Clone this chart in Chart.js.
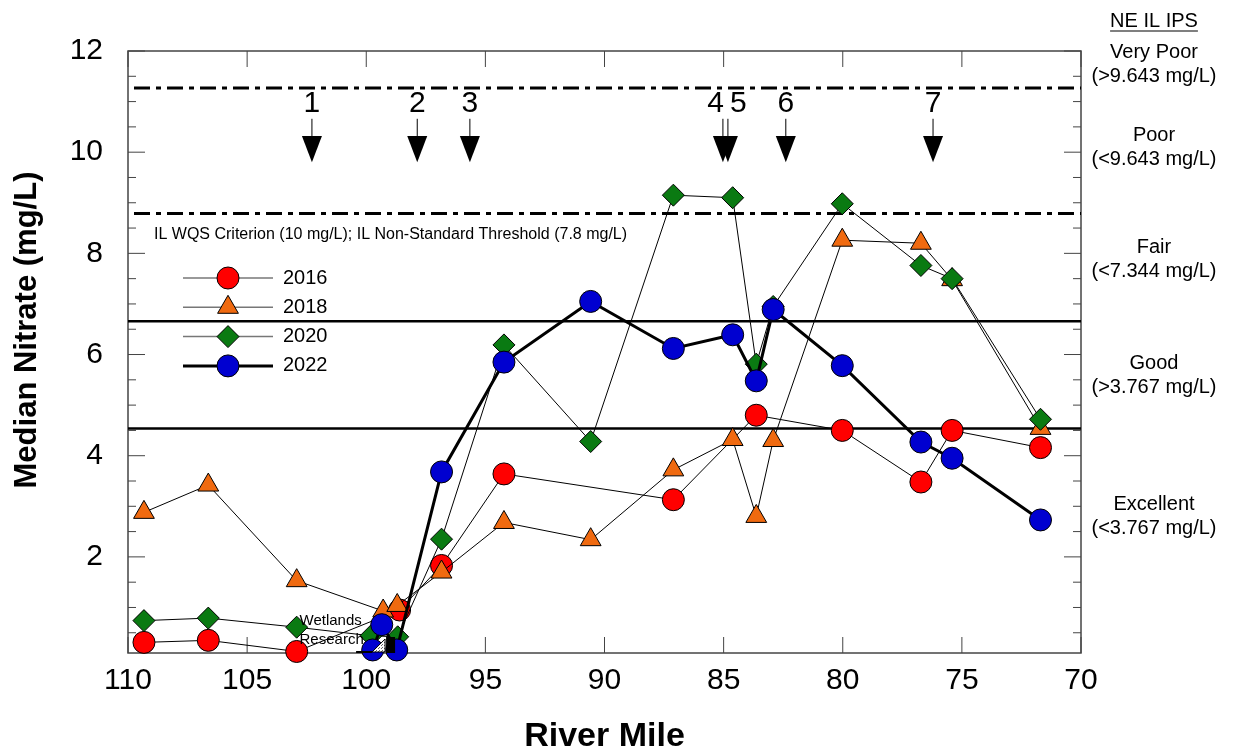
<!DOCTYPE html>
<html>
<head>
<meta charset="utf-8">
<title>Median Nitrate by River Mile</title>
<script src="https://cdn.jsdelivr.net/npm/chart.js@4.4.1/dist/chart.umd.min.js"></script>
<style>
  html, body { margin:0; padding:0; background:#fff; }
  #wrap { width:1236px; height:752px; }
</style>
</head>
<body>
<div id="wrap"><canvas id="nitrateChart" width="1236" height="752"></canvas></div>
<script>
// median nitrate (mg/L) by river mile, one pair of arrays per survey year
const miles2016   = [109.33, 106.63, 102.92, 98.6, 96.84, 94.22, 87.11, 83.63, 80.02, 76.72, 75.41, 71.70];
const nitrate2016 = [0.31, 0.35, 0.13, 0.95, 1.83, 3.64, 3.13, 4.80, 4.50, 3.48, 4.50, 4.16];

const miles2018   = [109.33, 106.63, 102.92, 99.29, 98.70, 96.84, 94.22, 90.58, 87.11, 84.62, 83.63, 82.92, 80.02, 76.72, 75.41, 71.70];
const nitrate2018 = [2.88, 3.42, 1.53, 0.93, 1.04, 1.70, 2.68, 2.34, 3.72, 4.32, 2.80, 4.30, 8.26, 8.20, 7.48, 4.54];

const miles2020   = [109.33, 106.63, 102.92, 99.8, 98.68, 96.84, 94.22, 90.58, 87.11, 84.62, 83.63, 82.92, 80.02, 76.72, 75.41, 71.70];
const nitrate2020 = [0.74, 0.79, 0.61, 0.44, 0.42, 2.35, 6.19, 4.28, 9.15, 9.10, 5.81, 6.95, 8.98, 7.76, 7.50, 4.72];

const miles2022   = [99.73, 99.35, 98.72, 96.84, 94.22, 90.58, 87.11, 84.62, 83.63, 82.92, 80.02, 76.72, 75.41, 71.70];
const nitrate2022 = [0.16, 0.66, 0.16, 3.68, 5.85, 7.05, 6.12, 6.39, 5.48, 6.89, 5.78, 4.27, 3.95, 2.73];

// numbered sites along the river
const siteMiles  = [102.28, 97.86, 95.65, 85.03, 84.82, 82.39, 76.21];
const siteLabels = ["1", "2", "3", "4", "5", "6", "7"];

// axis ticks
const xTickValues  = [110, 105, 100, 95, 90, 85, 80, 75, 70];
const yTickValues  = [2, 4, 6, 8, 10, 12];
const yMinorValues = [0.5, 1, 1.5, 2.5, 3, 3.5, 4.5, 5, 5.5, 6.5, 7, 7.5, 8.5, 9, 9.5, 10.5, 11, 11.5];

// category limits (dash-dot and solid rules)
const dashedLimits = [11.27, 8.79];
const solidLimits  = [6.66, 4.54];

// NE IL IPS classes on the right
const ipsNames  = ["Very Poor", "Poor", "Fair", "Good", "Excellent"];
const ipsRanges = ["(>9.643 mg/L)", "(<9.643 mg/L)", "(<7.344 mg/L)", "(>3.767 mg/L)", "(<3.767 mg/L)"];

const FONT = '"Liberation Sans", Arial, Helvetica, sans-serif';
Chart.defaults.font.family = FONT;

function series(label, miles, vals, style, fill, radius, width, order){
  return {
    label, order,
    data: miles.map((m, i) => ({ x: m, y: vals[i] })),
    borderColor: "#000", borderWidth: width, tension: 0, clip: false,
    pointStyle: style, pointRadius: radius, pointBackgroundColor: fill,
    pointBorderColor: "#000", pointBorderWidth: 1
  };
}

const seriesList = [
  series("2016", miles2016, nitrate2016, "circle",   "#ff0000", 11, 1, 4),
  series("2018", miles2018, nitrate2018, "triangle", "#f06a10", 12, 1, 3),
  series("2020", miles2020, nitrate2020, "rectRot",  "#0a7a12", 11, 1, 2),
  series("2022", miles2022, nitrate2022, "circle",   "#0000d0", 11, 3, 1)
];

function line(ctx, x1, y1, x2, y2){ ctx.beginPath(); ctx.moveTo(x1, y1); ctx.lineTo(x2, y2); ctx.stroke(); }

// marker for the legend, same shapes as the chart points
function marker(ctx, style, x, y, r, fill){
  ctx.beginPath();
  if(style === "circle") ctx.arc(x, y, r, 0, Math.PI * 2);
  else if(style === "triangle"){ ctx.moveTo(x, y - r); ctx.lineTo(x + r * 0.866, y + r / 2); ctx.lineTo(x - r * 0.866, y + r / 2); ctx.closePath(); }
  else { ctx.moveTo(x - r, y); ctx.lineTo(x, y - r); ctx.lineTo(x + r, y); ctx.lineTo(x, y + r); ctx.closePath(); }
  ctx.fillStyle = fill; ctx.fill();
  ctx.lineWidth = 1; ctx.strokeStyle = "#000"; ctx.stroke();
}

function dotPattern(ctx){
  const c = document.createElement("canvas"); c.width = c.height = 3;
  const g = c.getContext("2d");
  g.fillStyle = "#fff"; g.fillRect(0, 0, 3, 3);
  g.fillStyle = "#666"; g.fillRect(0, 0, 1, 1); g.fillRect(1, 2, 1, 1);
  return ctx.createPattern(c, "repeat");
}

const overlay = {
  id: "overlay",
  beforeDatasetsDraw(chart){
    const { ctx, chartArea: a, scales: { x, y } } = chart;
    ctx.save();
    // frame
    ctx.strokeStyle = "#444"; ctx.lineWidth = 1.5;
    ctx.strokeRect(a.left, a.top, a.right - a.left, a.bottom - a.top);
    // inward ticks
    ctx.lineWidth = 1;
    xTickValues.forEach(v => { const px = x.getPixelForValue(v); line(ctx, px, a.bottom, px, a.bottom - 16); line(ctx, px, a.top, px, a.top + 16); });
    yTickValues.forEach(v => { const py = y.getPixelForValue(v); line(ctx, a.left, py, a.left + 17, py); line(ctx, a.right, py, a.right - 17, py); });
    yMinorValues.forEach(v => { const py = y.getPixelForValue(v); line(ctx, a.left, py, a.left + 8, py); line(ctx, a.right, py, a.right - 8, py); });
    // category limits
    ctx.strokeStyle = "#000";
    ctx.lineWidth = 3; ctx.setLineDash([16, 6, 5, 6]);
    dashedLimits.forEach(v => { const py = y.getPixelForValue(v); line(ctx, a.left + 6, py, a.right, py); });
    ctx.setLineDash([]); ctx.lineWidth = 2.5;
    solidLimits.forEach(v => { const py = y.getPixelForValue(v); line(ctx, a.left, py, a.right, py); });
    ctx.restore();
  },
  afterDatasetsDraw(chart){
    const { ctx, chartArea: a, scales: { x, y } } = chart;
    ctx.save();
    ctx.fillStyle = "#000"; ctx.textBaseline = "middle";

    // criterion note
    ctx.font = "16px " + FONT; ctx.textAlign = "left";
    ctx.fillText("IL WQS Criterion (10 mg/L); IL Non-Standard Threshold (7.8 mg/L)", a.left + 26, y.getPixelForValue(8.38));

    // wetlands research marker
    const bx = x.getPixelForValue(99.0), by = a.bottom;
    ctx.font = "15px " + FONT;
    ctx.fillText("Wetlands", x.getPixelForValue(102.8), y.getPixelForValue(0.74));
    ctx.fillText("Research", x.getPixelForValue(102.8), y.getPixelForValue(0.36));
    ctx.strokeStyle = "#000"; ctx.lineWidth = 2;
    line(ctx, bx - 34, by - 1, bx - 18, by - 1);
    ctx.beginPath(); ctx.moveTo(bx - 18, by - 1); ctx.lineTo(bx - 5, by - 14); ctx.lineTo(bx - 5, by - 1); ctx.closePath();
    ctx.fillStyle = dotPattern(ctx); ctx.fill(); ctx.lineWidth = 1; ctx.stroke();
    ctx.fillStyle = "#000"; ctx.fillRect(bx - 4, by - 16, 9, 16);

    // legend
    seriesList.forEach((s, i) => {
      const ly = a.top + 227 + i * 29.3;
      ctx.strokeStyle = s.borderWidth > 1 ? "#000" : "#777";
      ctx.lineWidth = s.borderWidth > 1 ? 3 : 1.5;
      line(ctx, a.left + 55, ly, a.left + 145, ly);
      marker(ctx, s.pointStyle, a.left + 100, ly, s.pointRadius, s.pointBackgroundColor);
      ctx.fillStyle = "#000"; ctx.font = "20px " + FONT; ctx.textAlign = "left";
      ctx.fillText(s.label, a.left + 155, ly);
    });
    ctx.restore();
  },
  afterDraw(chart){
    const { ctx, chartArea: a, scales: { x, y } } = chart;
    ctx.save();
    ctx.fillStyle = "#000"; ctx.strokeStyle = "#000"; ctx.textBaseline = "middle";

    // site arrows
    const shaftTop = y.getPixelForValue(10.66), headTop = y.getPixelForValue(10.32), tip = y.getPixelForValue(9.80);
    const labelY = y.getPixelForValue(10.96);
    ctx.font = "30px " + FONT;
    siteMiles.forEach((m, i) => {
      const px = x.getPixelForValue(m);
      ctx.lineWidth = 1; line(ctx, px, shaftTop, px, headTop);
      ctx.beginPath(); ctx.moveTo(px - 10, headTop); ctx.lineTo(px + 10, headTop); ctx.lineTo(px, tip); ctx.closePath(); ctx.fill();
      // sites 4 and 5 sit close together, so their numbers are pushed apart
      if(siteLabels[i] === "4"){ ctx.textAlign = "right"; ctx.fillText(siteLabels[i], px + 1, labelY); }
      else if(siteLabels[i] === "5"){ ctx.textAlign = "left"; ctx.fillText(siteLabels[i], px + 2, labelY); }
      else { ctx.textAlign = "center"; ctx.fillText(siteLabels[i], px, labelY); }
    });

    // IPS classes
    const cx = a.right + 73;
    ctx.textAlign = "center"; ctx.font = "20px " + FONT;
    ctx.fillText("NE IL IPS", cx, 21);
    const w = ctx.measureText("NE IL IPS").width;
    ctx.lineWidth = 1.2; line(ctx, cx - w / 2, 31, cx + w / 2, 31);
    const nameY = [52, 135, 247, 363, 504];
    ctx.font = "20px " + FONT;
    ipsNames.forEach((n, i) => {
      ctx.fillText(n, cx, nameY[i]);
      ctx.fillText(ipsRanges[i], cx, nameY[i] + 24);
    });

    // axis titles
    ctx.font = "bold 34px " + FONT;
    ctx.fillText("River Mile", (a.left + a.right) / 2, 737);
    ctx.translate(27, (a.top + a.bottom) / 2 - 22);
    ctx.rotate(-Math.PI / 2);
    ctx.font = "bold 31px " + FONT;
    ctx.fillText("Median Nitrate (mg/L)", 0, 0);
    ctx.restore();
  }
};

new Chart(document.getElementById("nitrateChart").getContext("2d"), {
  type: "line",
  data: { datasets: seriesList },
  options: {
    responsive: false, animation: false, devicePixelRatio: 1, events: [],
    layout: { padding: { top: 51, right: 155, bottom: 0, left: 0 } },
    plugins: { legend: { display: false }, tooltip: { enabled: false } },
    scales: {
      x: {
        type: "linear", reverse: true, min: 70, max: 110,
        grid: { display: false, drawTicks: false }, border: { display: false },
        ticks: { color: "#000", font: { size: 30 }, padding: 10, autoSkip: false, maxRotation: 0 },
        afterBuildTicks: s => { s.ticks = xTickValues.map(v => ({ value: v })); },
        afterFit: s => { s.height = 99; }
      },
      y: {
        type: "linear", min: 0.1, max: 12,
        grid: { display: false, drawTicks: false }, border: { display: false },
        ticks: { color: "#000", font: { size: 30 }, padding: 25 },
        afterBuildTicks: s => { s.ticks = yTickValues.map(v => ({ value: v })); },
        afterFit: s => { s.width = 128; }
      }
    }
  },
  plugins: [overlay]
});
</script>
</body>
</html>
